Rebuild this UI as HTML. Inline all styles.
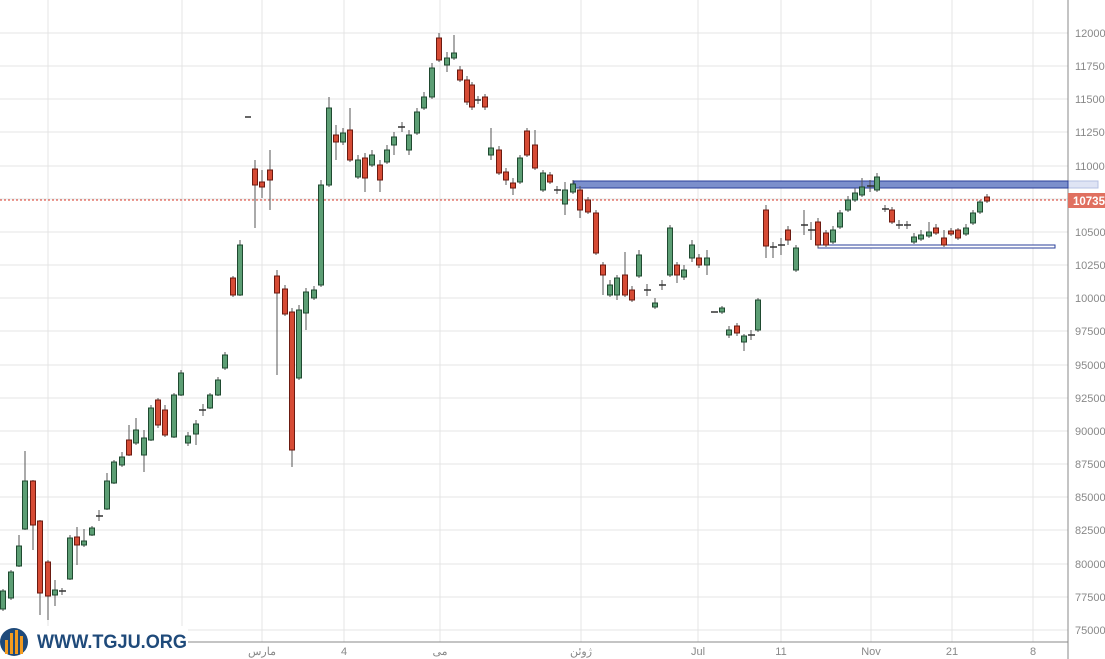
<!DOCTYPE html>
<html><head><meta charset="utf-8"><style>
html,body{margin:0;padding:0;background:#fff;width:1105px;height:659px;overflow:hidden}
text{font-family:"Liberation Sans","Noto Sans CJK SC",sans-serif}
</style></head><body>
<svg width="1105" height="659" viewBox="0 0 1105 659" xmlns="http://www.w3.org/2000/svg">
<g stroke="#e4e4e4" stroke-width="1">
<line x1="0" x2="1068" y1="33" y2="33"/><line x1="0" x2="1068" y1="66" y2="66"/><line x1="0" x2="1068" y1="99" y2="99"/><line x1="0" x2="1068" y1="132" y2="132"/><line x1="0" x2="1068" y1="166" y2="166"/><line x1="0" x2="1068" y1="199" y2="199"/><line x1="0" x2="1068" y1="232" y2="232"/><line x1="0" x2="1068" y1="265" y2="265"/><line x1="0" x2="1068" y1="298" y2="298"/><line x1="0" x2="1068" y1="331" y2="331"/><line x1="0" x2="1068" y1="365" y2="365"/><line x1="0" x2="1068" y1="398" y2="398"/><line x1="0" x2="1068" y1="431" y2="431"/><line x1="0" x2="1068" y1="464" y2="464"/><line x1="0" x2="1068" y1="497" y2="497"/><line x1="0" x2="1068" y1="530" y2="530"/><line x1="0" x2="1068" y1="564" y2="564"/><line x1="0" x2="1068" y1="597" y2="597"/><line x1="0" x2="1068" y1="630" y2="630"/>
<line x1="48" x2="48" y1="0" y2="642"/><line x1="182" x2="182" y1="0" y2="642"/><line x1="262" x2="262" y1="0" y2="642"/><line x1="344" x2="344" y1="0" y2="642"/><line x1="440" x2="440" y1="0" y2="642"/><line x1="581" x2="581" y1="0" y2="642"/><line x1="698" x2="698" y1="0" y2="642"/><line x1="781" x2="781" y1="0" y2="642"/><line x1="871" x2="871" y1="0" y2="642"/><line x1="952" x2="952" y1="0" y2="642"/><line x1="1033" x2="1033" y1="0" y2="642"/>
</g>
<line x1="1068" x2="1068" y1="0" y2="659" stroke="#888"/>
<line x1="0" x2="1068" y1="642" y2="642" stroke="#888"/>
<g font-size="11" fill="#888">
<text x="1075" y="37">12000</text><text x="1075" y="70">11750</text><text x="1075" y="103">11500</text><text x="1075" y="136">11250</text><text x="1075" y="170">11000</text><text x="1075" y="236">10500</text><text x="1075" y="269">10250</text><text x="1075" y="302">10000</text><text x="1075" y="335">97500</text><text x="1075" y="369">95000</text><text x="1075" y="402">92500</text><text x="1075" y="435">90000</text><text x="1075" y="468">87500</text><text x="1075" y="501">85000</text><text x="1075" y="534">82500</text><text x="1075" y="568">80000</text><text x="1075" y="601">77500</text><text x="1075" y="634">75000</text>
</g>
<g font-size="11" fill="#888" text-anchor="middle">
<text x="262" y="655">مارس</text><text x="344" y="655">4</text><text x="440" y="655">می</text><text x="581" y="655">ژوئن</text><text x="698" y="655">Jul</text><text x="781" y="655">11</text><text x="871" y="655">Nov</text><text x="952" y="655">21</text><text x="1033" y="655">8</text>
</g>
<rect x="1068" y="181" width="30" height="7" fill="#dfe4f4" stroke="#b6c0e2"/>
<rect x="574" y="181" width="494" height="7" fill="#7b8fcc" stroke="#2a3f9a"/>
<rect x="818" y="245" width="237" height="3" fill="#fff" stroke="#2a3f9a"/>
<line x1="0" x2="1068" y1="200" y2="200" stroke="#d9392a" stroke-dasharray="2,2"/>
<rect x="1068" y="193" width="37" height="15" fill="#e07060"/>
<text x="1073" y="205" font-size="11.5" font-weight="bold" fill="#fff">10735</text>
<g stroke="#555">
<line x1="3" x2="3" y1="589" y2="611"/><line x1="11" x2="11" y1="570" y2="600"/><line x1="19" x2="19" y1="535" y2="567"/><line x1="25" x2="25" y1="451" y2="530"/><line x1="33" x2="33" y1="480" y2="550"/><line x1="40" x2="40" y1="520" y2="615"/><line x1="48" x2="48" y1="560" y2="620"/><line x1="55" x2="55" y1="580" y2="606"/><line x1="62" x2="62" y1="588" y2="595"/><line x1="70" x2="70" y1="535" y2="580"/><line x1="77" x2="77" y1="527" y2="565"/><line x1="84" x2="84" y1="529" y2="547"/><line x1="92" x2="92" y1="526" y2="536"/><line x1="99" x2="99" y1="510" y2="521"/><line x1="107" x2="107" y1="473" y2="510"/><line x1="114" x2="114" y1="460" y2="484"/><line x1="122" x2="122" y1="452" y2="467"/><line x1="129" x2="129" y1="425" y2="456"/><line x1="136" x2="136" y1="418" y2="445"/><line x1="144" x2="144" y1="430" y2="472"/><line x1="151" x2="151" y1="405" y2="441"/><line x1="158" x2="158" y1="398" y2="428"/><line x1="165" x2="165" y1="405" y2="437"/><line x1="174" x2="174" y1="393" y2="438"/><line x1="181" x2="181" y1="370" y2="396"/><line x1="188" x2="188" y1="432" y2="446"/><line x1="196" x2="196" y1="420" y2="445"/><line x1="203" x2="203" y1="404" y2="416"/><line x1="210" x2="210" y1="393" y2="409"/><line x1="218" x2="218" y1="377" y2="396"/><line x1="225" x2="225" y1="352" y2="370"/><line x1="233" x2="233" y1="276" y2="297"/><line x1="240" x2="240" y1="240" y2="296"/><line x1="255" x2="255" y1="160" y2="228"/><line x1="262" x2="262" y1="170" y2="198"/><line x1="270" x2="270" y1="150" y2="210"/><line x1="277" x2="277" y1="270" y2="375"/><line x1="285" x2="285" y1="285" y2="316"/><line x1="292" x2="292" y1="308" y2="467"/><line x1="299" x2="299" y1="305" y2="380"/><line x1="306" x2="306" y1="288" y2="330"/><line x1="314" x2="314" y1="286" y2="300"/><line x1="321" x2="321" y1="180" y2="287"/><line x1="329" x2="329" y1="97" y2="187"/><line x1="336" x2="336" y1="125" y2="160"/><line x1="343" x2="343" y1="128" y2="145"/><line x1="350" x2="350" y1="108" y2="162"/><line x1="358" x2="358" y1="155" y2="179"/><line x1="365" x2="365" y1="153" y2="192"/><line x1="372" x2="372" y1="150" y2="167"/><line x1="380" x2="380" y1="160" y2="192"/><line x1="387" x2="387" y1="145" y2="164"/><line x1="394" x2="394" y1="132" y2="155"/><line x1="402" x2="402" y1="122" y2="132"/><line x1="409" x2="409" y1="130" y2="155"/><line x1="417" x2="417" y1="108" y2="135"/><line x1="424" x2="424" y1="92" y2="110"/><line x1="432" x2="432" y1="63" y2="99"/><line x1="439" x2="439" y1="33" y2="62"/><line x1="447" x2="447" y1="52" y2="72"/><line x1="454" x2="454" y1="35" y2="60"/><line x1="460" x2="460" y1="66" y2="82"/><line x1="467" x2="467" y1="76" y2="105"/><line x1="472" x2="472" y1="82" y2="110"/><line x1="478" x2="478" y1="96" y2="104"/><line x1="485" x2="485" y1="94" y2="110"/><line x1="491" x2="491" y1="128" y2="160"/><line x1="499" x2="499" y1="146" y2="175"/><line x1="506" x2="506" y1="168" y2="185"/><line x1="513" x2="513" y1="178" y2="195"/><line x1="520" x2="520" y1="155" y2="184"/><line x1="527" x2="527" y1="128" y2="157"/><line x1="535" x2="535" y1="130" y2="170"/><line x1="543" x2="543" y1="170" y2="192"/><line x1="550" x2="550" y1="172" y2="184"/><line x1="557" x2="557" y1="186" y2="194"/><line x1="565" x2="565" y1="182" y2="215"/><line x1="573" x2="573" y1="180" y2="194"/><line x1="580" x2="580" y1="186" y2="218"/><line x1="588" x2="588" y1="197" y2="214"/><line x1="596" x2="596" y1="210" y2="255"/><line x1="603" x2="603" y1="262" y2="295"/><line x1="610" x2="610" y1="280" y2="297"/><line x1="617" x2="617" y1="275" y2="300"/><line x1="625" x2="625" y1="252" y2="297"/><line x1="632" x2="632" y1="286" y2="302"/><line x1="639" x2="639" y1="250" y2="278"/><line x1="647" x2="647" y1="284" y2="296"/><line x1="655" x2="655" y1="298" y2="309"/><line x1="662" x2="662" y1="280" y2="290"/><line x1="670" x2="670" y1="225" y2="277"/><line x1="677" x2="677" y1="262" y2="283"/><line x1="684" x2="684" y1="265" y2="280"/><line x1="692" x2="692" y1="240" y2="262"/><line x1="699" x2="699" y1="254" y2="268"/><line x1="707" x2="707" y1="250" y2="275"/><line x1="722" x2="722" y1="306" y2="314"/><line x1="729" x2="729" y1="326" y2="338"/><line x1="737" x2="737" y1="323" y2="336"/><line x1="744" x2="744" y1="334" y2="351"/><line x1="751" x2="751" y1="330" y2="340"/><line x1="758" x2="758" y1="298" y2="332"/><line x1="766" x2="766" y1="205" y2="258"/><line x1="773" x2="773" y1="242" y2="258"/><line x1="781" x2="781" y1="238" y2="255"/><line x1="788" x2="788" y1="226" y2="245"/><line x1="796" x2="796" y1="245" y2="272"/><line x1="804" x2="804" y1="210" y2="235"/><line x1="811" x2="811" y1="222" y2="240"/><line x1="818" x2="818" y1="218" y2="248"/><line x1="826" x2="826" y1="230" y2="247"/><line x1="833" x2="833" y1="226" y2="244"/><line x1="840" x2="840" y1="210" y2="229"/><line x1="848" x2="848" y1="196" y2="212"/><line x1="855" x2="855" y1="188" y2="202"/><line x1="862" x2="862" y1="178" y2="197"/><line x1="870" x2="870" y1="180" y2="192"/><line x1="877" x2="877" y1="173" y2="192"/><line x1="885" x2="885" y1="205" y2="212"/><line x1="892" x2="892" y1="207" y2="224"/><line x1="899" x2="899" y1="220" y2="229"/><line x1="907" x2="907" y1="221" y2="229"/><line x1="914" x2="914" y1="233" y2="244"/><line x1="921" x2="921" y1="230" y2="241"/><line x1="929" x2="929" y1="222" y2="238"/><line x1="936" x2="936" y1="224" y2="235"/><line x1="944" x2="944" y1="230" y2="247"/><line x1="951" x2="951" y1="228" y2="236"/><line x1="958" x2="958" y1="228" y2="240"/><line x1="966" x2="966" y1="224" y2="236"/><line x1="973" x2="973" y1="210" y2="225"/><line x1="980" x2="980" y1="200" y2="214"/><line x1="987" x2="987" y1="194" y2="203"/>
</g>
<g fill="#5c9e74" stroke="#1f4a30">
<rect x="0.5" y="591" width="5" height="18"/><rect x="8.5" y="572" width="5" height="26"/><rect x="16.5" y="546" width="5" height="20"/><rect x="22.5" y="481" width="5" height="48"/><rect x="52.5" y="590" width="5" height="5"/><rect x="67.5" y="538" width="5" height="41"/><rect x="81.5" y="541" width="5" height="4"/><rect x="89.5" y="528" width="5" height="7"/><rect x="104.5" y="481" width="5" height="28"/><rect x="111.5" y="462" width="5" height="21"/><rect x="119.5" y="457" width="5" height="8"/><rect x="133.5" y="430" width="5" height="13"/><rect x="141.5" y="438" width="5" height="17"/><rect x="148.5" y="408" width="5" height="32"/><rect x="171.5" y="395" width="5" height="42"/><rect x="178.5" y="373" width="5" height="22"/><rect x="185.5" y="436" width="5" height="7"/><rect x="193.5" y="424" width="5" height="10"/><rect x="207.5" y="395" width="5" height="13"/><rect x="215.5" y="380" width="5" height="15"/><rect x="222.5" y="355" width="5" height="13"/><rect x="237.5" y="245" width="5" height="50"/><rect x="296.5" y="310" width="5" height="68"/><rect x="303.5" y="292" width="5" height="21"/><rect x="311.5" y="290" width="5" height="8"/><rect x="318.5" y="185" width="5" height="100"/><rect x="326.5" y="108" width="5" height="77"/><rect x="340.5" y="133" width="5" height="9"/><rect x="355.5" y="160" width="5" height="17"/><rect x="369.5" y="155" width="5" height="10"/><rect x="384.5" y="150" width="5" height="12"/><rect x="391.5" y="137" width="5" height="8"/><rect x="406.5" y="135" width="5" height="15"/><rect x="414.5" y="112" width="5" height="21"/><rect x="421.5" y="97" width="5" height="11"/><rect x="429.5" y="68" width="5" height="29"/><rect x="444.5" y="58" width="5" height="7"/><rect x="451.5" y="53" width="5" height="5"/><rect x="488.5" y="148" width="5" height="7"/><rect x="517.5" y="158" width="5" height="24"/><rect x="540.5" y="173" width="5" height="17"/><rect x="562.5" y="190" width="5" height="14"/><rect x="570.5" y="184" width="5" height="8"/><rect x="607.5" y="285" width="5" height="10"/><rect x="614.5" y="278" width="5" height="17"/><rect x="636.5" y="255" width="5" height="21"/><rect x="652.5" y="303" width="5" height="4"/><rect x="667.5" y="228" width="5" height="47"/><rect x="681.5" y="270" width="5" height="7"/><rect x="689.5" y="245" width="5" height="13"/><rect x="704.5" y="258" width="5" height="7"/><rect x="719.5" y="308" width="5" height="4"/><rect x="726.5" y="330" width="5" height="5"/><rect x="741.5" y="336" width="5" height="6"/><rect x="755.5" y="300" width="5" height="30"/><rect x="793.5" y="248" width="5" height="22"/><rect x="830.5" y="230" width="5" height="12"/><rect x="837.5" y="213" width="5" height="14"/><rect x="845.5" y="200" width="5" height="10"/><rect x="852.5" y="193" width="5" height="7"/><rect x="859.5" y="187" width="5" height="8"/><rect x="874.5" y="177" width="5" height="13"/><rect x="911.5" y="237" width="5" height="5"/><rect x="918.5" y="235" width="5" height="4"/><rect x="926.5" y="232" width="5" height="4"/><rect x="963.5" y="228" width="5" height="6"/><rect x="970.5" y="213" width="5" height="10"/><rect x="977.5" y="202" width="5" height="10"/>
</g>
<g fill="#d64b35" stroke="#6b1a10">
<rect x="30.5" y="481" width="5" height="44"/><rect x="37.5" y="521" width="5" height="72"/><rect x="45.5" y="562" width="5" height="34"/><rect x="74.5" y="537" width="5" height="8"/><rect x="126.5" y="440" width="5" height="15"/><rect x="155.5" y="400" width="5" height="25"/><rect x="162.5" y="410" width="5" height="25"/><rect x="230.5" y="278" width="5" height="17"/><rect x="252.5" y="169" width="5" height="16"/><rect x="259.5" y="182" width="5" height="5"/><rect x="267.5" y="170" width="5" height="10"/><rect x="274.5" y="276" width="5" height="17"/><rect x="282.5" y="289" width="5" height="25"/><rect x="289.5" y="312" width="5" height="138"/><rect x="333.5" y="135" width="5" height="7"/><rect x="347.5" y="130" width="5" height="30"/><rect x="362.5" y="158" width="5" height="20"/><rect x="377.5" y="165" width="5" height="15"/><rect x="436.5" y="38" width="5" height="22"/><rect x="457.5" y="70" width="5" height="10"/><rect x="464.5" y="80" width="5" height="22"/><rect x="469.5" y="85" width="5" height="22"/><rect x="482.5" y="97" width="5" height="10"/><rect x="496.5" y="150" width="5" height="23"/><rect x="503.5" y="172" width="5" height="8"/><rect x="510.5" y="183" width="5" height="5"/><rect x="524.5" y="131" width="5" height="24"/><rect x="532.5" y="145" width="5" height="23"/><rect x="547.5" y="175" width="5" height="7"/><rect x="577.5" y="190" width="5" height="20"/><rect x="585.5" y="200" width="5" height="12"/><rect x="593.5" y="213" width="5" height="40"/><rect x="600.5" y="265" width="5" height="10"/><rect x="622.5" y="275" width="5" height="20"/><rect x="629.5" y="290" width="5" height="10"/><rect x="674.5" y="265" width="5" height="10"/><rect x="696.5" y="258" width="5" height="7"/><rect x="734.5" y="326" width="5" height="7"/><rect x="763.5" y="210" width="5" height="36"/><rect x="785.5" y="230" width="5" height="10"/><rect x="815.5" y="222" width="5" height="23"/><rect x="823.5" y="233" width="5" height="12"/><rect x="889.5" y="210" width="5" height="12"/><rect x="933.5" y="228" width="5" height="5"/><rect x="941.5" y="238" width="5" height="7"/><rect x="948.5" y="231" width="5" height="3"/><rect x="955.5" y="230" width="5" height="8"/><rect x="984.5" y="197" width="5" height="4"/>
</g>
<g stroke="#333" stroke-width="1.5">
<line x1="59" x2="66" y1="591" y2="591"/><line x1="96" x2="103" y1="516" y2="516"/><line x1="199" x2="206" y1="410" y2="410"/><line x1="245" x2="251" y1="117" y2="117"/><line x1="398" x2="405" y1="127" y2="127"/><line x1="475" x2="481" y1="100" y2="100"/><line x1="554" x2="561" y1="190" y2="190"/><line x1="644" x2="651" y1="290" y2="290"/><line x1="659" x2="666" y1="285" y2="285"/><line x1="711" x2="718" y1="312" y2="312"/><line x1="748" x2="755" y1="335" y2="335"/><line x1="770" x2="777" y1="247" y2="247"/><line x1="778" x2="785" y1="245" y2="245"/><line x1="801" x2="808" y1="225" y2="225"/><line x1="808" x2="815" y1="230" y2="230"/><line x1="867" x2="874" y1="186" y2="186"/><line x1="882" x2="889" y1="209" y2="209"/><line x1="896" x2="903" y1="225" y2="225"/><line x1="904" x2="911" y1="225" y2="225"/>
</g>
<rect x="0" y="626" width="188" height="33" fill="#fff"/>
<circle cx="14" cy="642" r="14" fill="#1f4a7a"/>
<g fill="#f29a1f"><rect x="5" y="640" width="3" height="14"/><rect x="10" y="633" width="3" height="21"/><rect x="15" y="630" width="3" height="24"/><rect x="20" y="636" width="3" height="18"/></g>
<text x="37" y="648" font-size="19" font-weight="bold" fill="#1f4a7a" textLength="150" lengthAdjust="spacingAndGlyphs">WWW.TGJU.ORG</text>
</svg>
</body></html>
